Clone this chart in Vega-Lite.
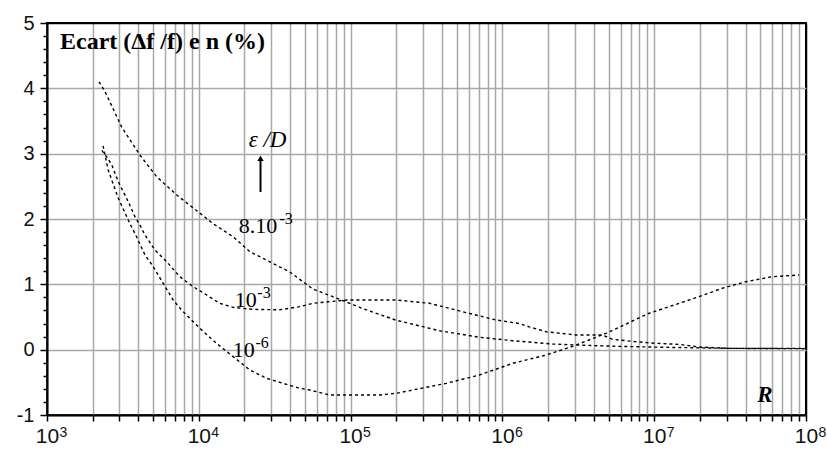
{
  "$schema": "https://vega.github.io/schema/vega-lite/v6.json",
  "width": 759,
  "height": 392,
  "autosize": {"type": "none"},
  "padding": {"left": 47, "top": 23, "right": 21, "bottom": 36},
  "background": "white",
  "config": {
    "view": {"stroke": "black", "strokeWidth": 2},
    "axis": {"domainColor": "black", "domainWidth": 2, "tickColor": "black", "tickWidth": 1.5, "gridColor": "#a8a8a8", "gridWidth": 1.5, "gridOpacity": 1, "labelFont": "Liberation Sans", "labelFontSize": 20, "labelColor": "#111", "title": null}
  },
  "resolve": {"axis": {"y": "independent", "x": "independent"}},
  "datasets": {
    "curves": [
      {"eps": "8e-3", "R": 2200, "v": 4.10},
      {"eps": "8e-3", "R": 2410, "v": 3.95},
      {"eps": "8e-3", "R": 3100, "v": 3.41},
      {"eps": "8e-3", "R": 4090, "v": 2.98},
      {"eps": "8e-3", "R": 5270, "v": 2.65},
      {"eps": "8e-3", "R": 7130, "v": 2.37},
      {"eps": "8e-3", "R": 10160, "v": 2.09},
      {"eps": "8e-3", "R": 12400, "v": 1.93},
      {"eps": "8e-3", "R": 16800, "v": 1.73},
      {"eps": "8e-3", "R": 21700, "v": 1.50},
      {"eps": "8e-3", "R": 39700, "v": 1.19},
      {"eps": "8e-3", "R": 56200, "v": 0.93},
      {"eps": "8e-3", "R": 84700, "v": 0.77},
      {"eps": "8e-3", "R": 120000, "v": 0.63},
      {"eps": "8e-3", "R": 200000, "v": 0.45},
      {"eps": "8e-3", "R": 385000, "v": 0.29},
      {"eps": "8e-3", "R": 706000, "v": 0.19},
      {"eps": "8e-3", "R": 1170000, "v": 0.137},
      {"eps": "8e-3", "R": 2140000, "v": 0.087},
      {"eps": "8e-3", "R": 3200000, "v": 0.07},
      {"eps": "8e-3", "R": 5900000, "v": 0.05},
      {"eps": "8e-3", "R": 12600000, "v": 0.035},
      {"eps": "8e-3", "R": 31600000, "v": 0.02},
      {"eps": "8e-3", "R": 100000000, "v": 0.02},
      {"eps": "1e-3", "R": 2300, "v": 3.05},
      {"eps": "1e-3", "R": 2470, "v": 2.95},
      {"eps": "1e-3", "R": 2670, "v": 2.83},
      {"eps": "1e-3", "R": 2845, "v": 2.66},
      {"eps": "1e-3", "R": 3020, "v": 2.52},
      {"eps": "1e-3", "R": 3260, "v": 2.37},
      {"eps": "1e-3", "R": 3515, "v": 2.21},
      {"eps": "1e-3", "R": 3795, "v": 2.035},
      {"eps": "1e-3", "R": 4090, "v": 1.91},
      {"eps": "1e-3", "R": 4420, "v": 1.755},
      {"eps": "1e-3", "R": 5140, "v": 1.526},
      {"eps": "1e-3", "R": 6140, "v": 1.347},
      {"eps": "1e-3", "R": 7500, "v": 1.117},
      {"eps": "1e-3", "R": 9180, "v": 0.964},
      {"eps": "1e-3", "R": 11250, "v": 0.837},
      {"eps": "1e-3", "R": 13700, "v": 0.71},
      {"eps": "1e-3", "R": 16800, "v": 0.648},
      {"eps": "1e-3", "R": 22750, "v": 0.617},
      {"eps": "1e-3", "R": 34100, "v": 0.61},
      {"eps": "1e-3", "R": 46100, "v": 0.658},
      {"eps": "1e-3", "R": 56500, "v": 0.71},
      {"eps": "1e-3", "R": 93800, "v": 0.76},
      {"eps": "1e-3", "R": 200000, "v": 0.76},
      {"eps": "1e-3", "R": 331000, "v": 0.71},
      {"eps": "1e-3", "R": 548000, "v": 0.58},
      {"eps": "1e-3", "R": 910000, "v": 0.454},
      {"eps": "1e-3", "R": 1290000, "v": 0.40},
      {"eps": "1e-3", "R": 1500000, "v": 0.35},
      {"eps": "1e-3", "R": 1940000, "v": 0.275},
      {"eps": "1e-3", "R": 3050000, "v": 0.225},
      {"eps": "1e-3", "R": 4570000, "v": 0.225},
      {"eps": "1e-3", "R": 5300000, "v": 0.158},
      {"eps": "1e-3", "R": 7570000, "v": 0.122},
      {"eps": "1e-3", "R": 10300000, "v": 0.097},
      {"eps": "1e-3", "R": 14600000, "v": 0.081},
      {"eps": "1e-3", "R": 19800000, "v": 0.04},
      {"eps": "1e-3", "R": 31600000, "v": 0.02},
      {"eps": "1e-3", "R": 100000000, "v": 0.015},
      {"eps": "1e-6", "R": 2340, "v": 3.12},
      {"eps": "1e-6", "R": 2530, "v": 2.75},
      {"eps": "1e-6", "R": 2945, "v": 2.32},
      {"eps": "1e-6", "R": 3515, "v": 1.93},
      {"eps": "1e-6", "R": 3795, "v": 1.78},
      {"eps": "1e-6", "R": 4420, "v": 1.45},
      {"eps": "1e-6", "R": 5010, "v": 1.27},
      {"eps": "1e-6", "R": 5820, "v": 1.016},
      {"eps": "1e-6", "R": 6780, "v": 0.76},
      {"eps": "1e-6", "R": 7690, "v": 0.607},
      {"eps": "1e-6", "R": 8730, "v": 0.48},
      {"eps": "1e-6", "R": 10160, "v": 0.327},
      {"eps": "1e-6", "R": 13060, "v": 0.097},
      {"eps": "1e-6", "R": 16830, "v": -0.107},
      {"eps": "1e-6", "R": 21700, "v": -0.311},
      {"eps": "1e-6", "R": 27900, "v": -0.438},
      {"eps": "1e-6", "R": 35900, "v": -0.515},
      {"eps": "1e-6", "R": 46100, "v": -0.591},
      {"eps": "1e-6", "R": 53700, "v": -0.617},
      {"eps": "1e-6", "R": 72800, "v": -0.694},
      {"eps": "1e-6", "R": 155000, "v": -0.694},
      {"eps": "1e-6", "R": 200000, "v": -0.668},
      {"eps": "1e-6", "R": 331000, "v": -0.566},
      {"eps": "1e-6", "R": 427000, "v": -0.515},
      {"eps": "1e-6", "R": 706000, "v": -0.388},
      {"eps": "1e-6", "R": 1170000, "v": -0.209},
      {"eps": "1e-6", "R": 1940000, "v": -0.082},
      {"eps": "1e-6", "R": 2900000, "v": 0.05},
      {"eps": "1e-6", "R": 4810000, "v": 0.25},
      {"eps": "1e-6", "R": 9270000, "v": 0.557},
      {"eps": "1e-6", "R": 17000000, "v": 0.76},
      {"eps": "1e-6", "R": 28100000, "v": 0.94},
      {"eps": "1e-6", "R": 40100000, "v": 1.04},
      {"eps": "1e-6", "R": 60000000, "v": 1.117},
      {"eps": "1e-6", "R": 90000000, "v": 1.143}
    ]
  },
  "layer": [
    {
      "data": {"name": "curves"},
      "mark": {"type": "line", "color": "black", "strokeWidth": 1.4, "strokeDash": [3, 3], "clip": true},
      "encoding": {
        "x": {"field": "R", "type": "quantitative",
          "scale": {"type": "log", "domain": [1000, 100000000], "nice": false},
          "axis": {"orient": "bottom", "values": [1000,2000,3000,4000,5000,6000,7000,8000,9000,10000,20000,30000,40000,50000,60000,70000,80000,90000,100000,200000,300000,400000,500000,600000,700000,800000,900000,1000000,2000000,3000000,4000000,5000000,6000000,7000000,8000000,9000000,10000000,20000000,30000000,40000000,50000000,60000000,70000000,80000000,90000000,100000000],
            "grid": true, "tickSize": 6, "labelFontSize": 21, "labelPadding": 4, "labelOverlap": false, "labelBound": false, "labelFlush": false,
            "gridColor": {"condition": {"test": "datum.value >= 99999999", "value": "black"}, "value": "#a8a8a8"},
            "labelExpr": "abs(log(datum.value)/LN10 - round(log(datum.value)/LN10)) < 0.001 ? '10' : ''"}},
        "y": {"field": "v", "type": "quantitative",
          "scale": {"domain": [-1, 5], "nice": false, "zero": false},
          "axis": {"orient": "left", "values": [-1, 0, 1, 2, 3, 4, 5], "grid": true, "tickSize": 7, "labelFontSize": 20, "labelPadding": 6, "domain": true, "labelBound": false, "labelFlush": false, "labelOverlap": false,
            "labelExpr": "'' + datum.value",
            "gridColor": {"condition": {"test": "datum.value >= 5", "value": "black"}, "value": "#a8a8a8"}}},
        "detail": {"field": "eps"}
      }
    },
    {
      "data": {"values": [{"R": 1218, "v": 4.60, "t": "Ecart (Δf /f) e n (%)"}]},
      "mark": {"type": "text", "align": "left", "baseline": "alphabetic", "font": "Liberation Serif", "fontWeight": "bold", "fontSize": 24, "color": "black"},
      "encoding": {
        "x": {"field": "R", "type": "quantitative",
          "axis": {"orient": "bottom", "values": [1000, 10000, 100000, 1000000, 10000000, 100000000],
            "grid": false, "ticks": false, "domain": false, "labelFontSize": 14, "labelPadding": 10, "labelAlign": "left", "labelOffset": 12, "labelOverlap": false, "labelBound": false, "labelFlush": false,
            "labelExpr": "'' + round(log(datum.value)/LN10)"}},
        "y": {"field": "v", "type": "quantitative",
          "axis": {"orient": "left", "values": [-0.8,-0.6,-0.4,-0.2,0.2,0.4,0.6,0.8,1.2,1.4,1.6,1.8,2.2,2.4,2.6,2.8,3.2,3.4,3.6,3.8,4.2,4.4,4.6,4.8],
            "grid": false, "labels": false, "tickSize": 4, "domain": false}},
        "text": {"field": "t"}
      }
    },
    {
      "data": {"values": [
        {"R": 18300, "v": 1.786, "t": "8.10"},
        {"R": 17260, "v": 0.658, "t": "10"},
        {"R": 16750, "v": -0.108, "t": "10"}
      ]},
      "mark": {"type": "text", "align": "left", "baseline": "alphabetic", "font": "Liberation Serif", "fontSize": 22, "color": "black"},
      "encoding": {
        "x": {"field": "R", "type": "quantitative", "axis": null},
        "y": {"field": "v", "type": "quantitative", "axis": null},
        "text": {"field": "t"}
      }
    },
    {
      "data": {"values": [
        {"R": 34000, "v": 1.786, "t": "-3"},
        {"R": 24300, "v": 0.658, "t": "-3"},
        {"R": 23600, "v": -0.108, "t": "-6"}
      ]},
      "mark": {"type": "text", "align": "left", "baseline": "alphabetic", "font": "Liberation Serif", "fontSize": 16, "dy": -9, "color": "black"},
      "encoding": {
        "x": {"field": "R", "type": "quantitative", "axis": null},
        "y": {"field": "v", "type": "quantitative", "axis": null},
        "text": {"field": "t"}
      }
    },
    {
      "data": {"values": [{"R": 21300, "v": 3.10, "t": "ε /D"}]},
      "mark": {"type": "text", "align": "left", "baseline": "alphabetic", "font": "Liberation Serif", "fontStyle": "italic", "fontSize": 23, "color": "black"},
      "encoding": {
        "x": {"field": "R", "type": "quantitative", "axis": null},
        "y": {"field": "v", "type": "quantitative", "axis": null},
        "text": {"field": "t"}
      }
    },
    {
      "data": {"values": [{"R": 47700000, "v": -0.796, "t": "R"}]},
      "mark": {"type": "text", "align": "left", "baseline": "alphabetic", "font": "Liberation Serif", "fontStyle": "italic", "fontWeight": "bold", "fontSize": 23, "color": "black"},
      "encoding": {
        "x": {"field": "R", "type": "quantitative", "axis": null},
        "y": {"field": "v", "type": "quantitative", "axis": null},
        "text": {"field": "t"}
      }
    },
    {
      "data": {"values": [{"R": 25500, "v": 2.413, "v2": 2.90}]},
      "mark": {"type": "rule", "color": "black", "strokeWidth": 2},
      "encoding": {
        "x": {"field": "R", "type": "quantitative", "axis": null},
        "y": {"field": "v", "type": "quantitative", "axis": null},
        "y2": {"field": "v2"}
      }
    },
    {
      "data": {"values": [{"R": 25500, "v": 2.93}]},
      "mark": {"type": "point", "shape": "triangle-up", "filled": true, "color": "black", "size": 40, "opacity": 1},
      "encoding": {
        "x": {"field": "R", "type": "quantitative", "axis": null},
        "y": {"field": "v", "type": "quantitative", "axis": null}
      }
    }
  ]
}
